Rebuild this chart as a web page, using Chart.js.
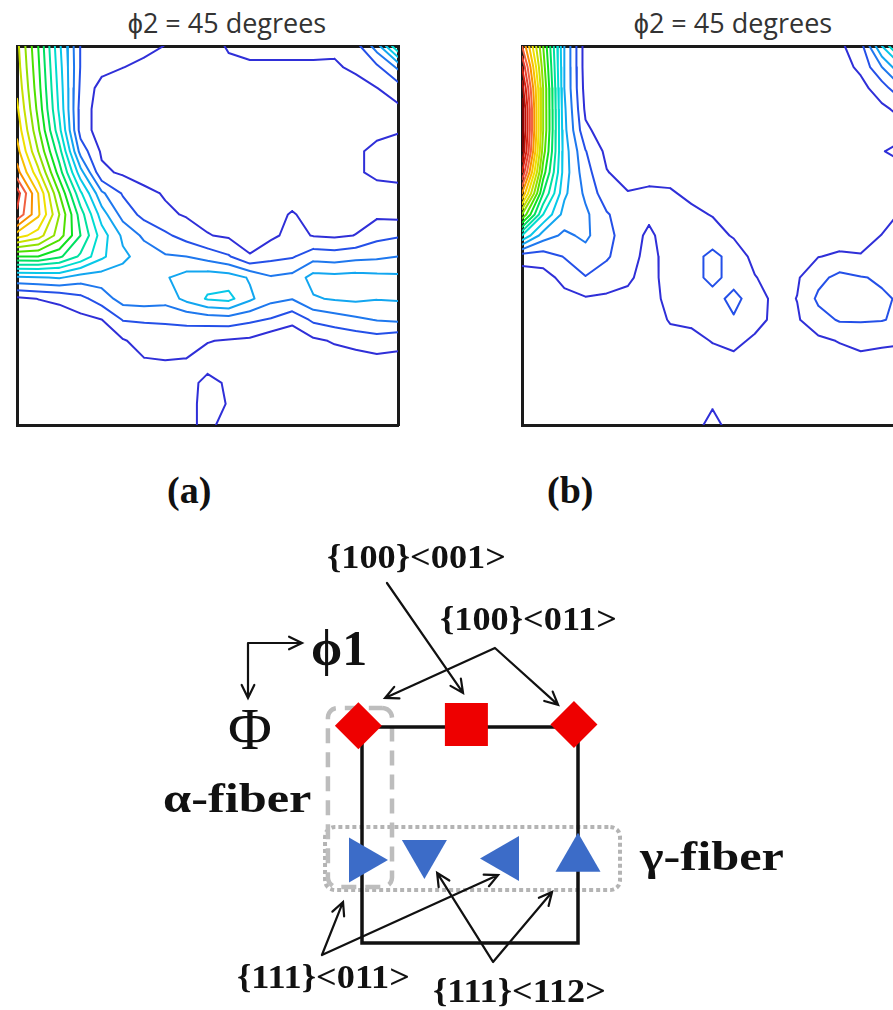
<!DOCTYPE html>
<html>
<head>
<meta charset="utf-8">
<script src="https://cdn.jsdelivr.net/npm/chart.js@4.4.0/dist/chart.umd.min.js"></script>
<style>
  html, body { margin: 0; padding: 0; background: #fff; overflow: hidden; width: 893px; height: 1010px; }
  .box { position: absolute; }
  .lbl { position: absolute; white-space: nowrap; line-height: 1; color: #111; transform-origin: 0 0; }
  .serif { font-family: "Liberation Serif", "Times New Roman", serif; }
  .title { font-family: "Open Sans", sans-serif; font-size: 27px; color: #333; transform: translateX(-50%); }
  .tex { font-size: 33px; font-weight: bold; transform: scaleX(1.1); }
  .fib { font-size: 42px; font-weight: bold; transform: scaleX(1.2); }
</style>
</head>
<body>

<div class="box" style="left:14px;top:43px;width:387px;height:385px"><canvas id="odfA"></canvas></div>
<div class="box" style="left:519px;top:43px;width:387px;height:385px"><canvas id="odfB"></canvas></div>
<div class="box" style="left:0;top:520px;width:893px;height:490px"><canvas id="keyChart"></canvas></div>

<div class="lbl title" style="left:227px;top:9px">ϕ2 = 45 degrees</div>
<div class="lbl title" style="left:733px;top:9px">ϕ2 = 45 degrees</div>

<div class="lbl serif" style="left:167px;top:471px;font-size:38px;font-weight:bold">(a)</div>
<div class="lbl serif" style="left:547px;top:471px;font-size:38px;font-weight:bold">(b)</div>

<div class="lbl serif tex" style="left:327px;top:541px">{100}&lt;001&gt;</div>
<div class="lbl serif tex" style="left:440px;top:603px">{100}&lt;011&gt;</div>
<div class="lbl serif tex" style="left:237px;top:961px">{111}&lt;011&gt;</div>
<div class="lbl serif tex" style="left:433px;top:975px">{111}&lt;112&gt;</div>

<div class="lbl serif" style="left:311px;top:623px;font-size:50px;font-weight:bold">ϕ1</div>
<div class="lbl serif" style="left:228px;top:699px;font-size:60px">Φ</div>
<div class="lbl serif fib" style="left:163px;top:777px">α-fiber</div>
<div class="lbl serif fib" style="left:640px;top:835px">γ-fiber</div>

<script>
// ODF sections at phi2 = 45 degrees, intensity on a 5 degree grid
// rows = Phi 0..90, columns = phi1 0..90
const gridStep = 5;
const contourLevels = [1, 2, 3, 4, 5, 6, 7, 8, 9, 10, 11, 12, 13, 14, 15, 16, 17, 18, 19, 20];
const levelColors = ["#2f2fd8", "#2450e8", "#1e78ee", "#12a6f0", "#08c8e8", "#00dcd0", "#00e0a0", "#00e060",
  "#10e020", "#50e000", "#90e000", "#c8e000", "#f0e000", "#f8c000", "#f89000", "#f06040",
  "#e84030", "#d82010", "#b81008", "#8a0000"];

const odfA = [
  [12.3, 9, 5.2, 1.95, 1.6, 1.45, 1.25, 0.98, 0.8, 0.8, 1.05, 1.1, 1.1, 1.1, 1.1, 1.15, 1.6, 3.5, 7],
  [12.5, 9.2, 5.4, 1.95, 1.35, 1.02, 0.8, 0.7, 0.6, 0.6, 0.9, 0.95, 0.95, 0.95, 0.95, 0.9, 1.15, 1.8, 3.2],
  [12.8, 9.4, 5.6, 1.8, 0.6, 0.5, 0.45, 0.45, 0.4, 0.4, 0.45, 0.5, 0.5, 0.55, 0.6, 0.65, 0.7, 0.98, 1.5],
  [13.2, 9.7, 5.8, 1.6, 0.45, 0.35, 0.3, 0.3, 0.3, 0.3, 0.3, 0.35, 0.35, 0.4, 0.4, 0.45, 0.6, 0.7, 0.8],
  [13.7, 10.2, 6.3, 1.6, 0.45, 0.35, 0.3, 0.3, 0.3, 0.3, 0.3, 0.3, 0.3, 0.35, 0.35, 0.4, 0.6, 0.85, 0.95],
  [14.4, 11, 7.4, 2.6, 0.85, 0.4, 0.35, 0.3, 0.3, 0.3, 0.3, 0.3, 0.3, 0.35, 0.4, 0.5, 0.9, 1.15, 1.25],
  [15.4, 12.3, 8.5, 4.4, 1.2, 0.85, 0.5, 0.4, 0.35, 0.3, 0.3, 0.3, 0.3, 0.35, 0.4, 0.5, 0.9, 1.15, 1.2],
  [17.5, 14, 10, 6.2, 3.2, 1.9, 1.3, 0.9, 0.5, 0.4, 0.35, 0.35, 0.4, 0.5, 0.45, 0.5, 0.6, 0.75, 0.8],
  [16.8, 14.2, 11, 7.5, 4.5, 2.6, 1.7, 1.2, 0.9, 0.7, 0.6, 0.55, 0.6, 1.1, 0.6, 0.6, 0.7, 0.8, 0.7],
  [13.5, 12.5, 10.5, 8, 5.5, 3.8, 2.8, 2.2, 1.6, 1.05, 0.85, 0.7, 0.8, 1.3, 0.95, 0.85, 1.02, 1.7, 1.9],
  [9, 9, 8.2, 6.8, 5.2, 4.2, 3.6, 3.1, 3.0, 2.6, 2.1, 1.05, 1.7, 1.9, 2.6, 2.5, 2.7, 2.8, 3.0],
  [3.8, 3.9, 4.1, 3.5, 3.5, 3.6, 3.7, 3.9, 4.4, 4.6, 4.5, 3.9, 3.1, 3.3, 4.4, 4.3, 4.4, 4.3, 4.2],
  [0.8, 1.02, 1.2, 1.7, 2.5, 3.4, 3.5, 3.4, 4.3, 5.1, 5.3, 4.2, 3.3, 3.05, 3.9, 4.1, 4.2, 4.05, 4.1],
  [0.3, 0.4, 0.5, 0.7, 0.98, 2.05, 2.1, 2.1, 2.2, 2.4, 2.5, 2.2, 1.9, 1.3, 2.2, 2.5, 2.8, 3.05, 3.2],
  [0.2, 0.25, 0.3, 0.35, 0.5, 0.9, 1.4, 1.6, 1.5, 1.05, 0.9, 0.8, 0.3, 0.2, 0.8, 1.1, 1.3, 1.5, 1.2],
  [0.2, 0.2, 0.25, 0.3, 0.35, 0.5, 0.9, 0.95, 0.9, 0.6, 0.5, 0.4, 0.3, 0.2, 0.5, 0.5, 0.6, 0.7, 0.8],
  [0.2, 0.2, 0.2, 0.25, 0.3, 0.3, 0.4, 0.4, 0.6, 1.3, 0.85, 0.4, 0.3, 0.3, 0.3, 0.3, 0.35, 0.4, 0.4],
  [0.2, 0.2, 0.2, 0.2, 0.25, 0.3, 0.3, 0.4, 0.7, 1.3, 0.95, 0.4, 0.3, 0.3, 0.3, 0.3, 0.3, 0.3, 0.3],
  [0.2, 0.2, 0.2, 0.2, 0.2, 0.25, 0.3, 0.4, 0.8, 1.2, 0.7, 0.4, 0.3, 0.3, 0.3, 0.3, 0.3, 0.3, 0.3]
];

const odfB = [
  [16, 10, 4, 0.5, 0.4, 0.35, 0.35, 0.3, 0.3, 0.3, 0.3, 0.3, 0.3, 0.35, 0.5, 0.8, 1.6, 5, 8],
  [18, 10.5, 4, 0.5, 0.4, 0.35, 0.3, 0.3, 0.3, 0.3, 0.3, 0.3, 0.3, 0.3, 0.45, 0.6, 1.2, 3, 5],
  [19.5, 11, 4, 0.6, 0.45, 0.35, 0.3, 0.3, 0.3, 0.3, 0.3, 0.3, 0.3, 0.3, 0.4, 0.5, 0.7, 1.5, 3],
  [20.5, 11, 4.2, 0.8, 0.45, 0.35, 0.3, 0.3, 0.3, 0.3, 0.3, 0.3, 0.3, 0.3, 0.35, 0.4, 0.5, 0.8, 1.3],
  [20.5, 11, 4.3, 1.2, 0.5, 0.4, 0.3, 0.3, 0.3, 0.3, 0.3, 0.3, 0.3, 0.3, 0.35, 0.4, 0.5, 0.6, 0.7],
  [20, 10.5, 4.5, 2.05, 0.75, 0.45, 0.4, 0.35, 0.3, 0.3, 0.3, 0.3, 0.3, 0.3, 0.35, 0.4, 0.5, 0.95, 1.3],
  [18, 9.5, 4.5, 2.4, 1.05, 0.6, 0.8, 0.7, 0.5, 0.4, 0.35, 0.35, 0.35, 0.35, 0.35, 0.4, 0.45, 0.6, 0.7],
  [15, 8, 4.2, 2.8, 1.4, 1.05, 1.1, 1.1, 0.8, 0.6, 0.45, 0.4, 0.35, 0.35, 0.35, 0.4, 0.45, 0.5, 0.6],
  [11, 6, 3.6, 3.2, 2.1, 1.4, 1.2, 1.3, 1.2, 0.95, 0.7, 0.5, 0.45, 0.4, 0.4, 0.45, 0.5, 0.7, 1.1],
  [6, 3.5, 2.8, 3.2, 2.3, 1.5, 0.8, 1.5, 1.4, 1.4, 0.9, 0.6, 0.5, 0.45, 0.5, 0.7, 0.7, 1.02, 1.5],
  [1.4, 1.5, 2.05, 2.6, 2.1, 1.5, 0.6, 1.5, 1.6, 2.3, 1.6, 0.7, 0.45, 0.5, 0.98, 1.1, 1.05, 1.6, 1.7],
  [0.5, 0.6, 1.3, 1.95, 1.6, 1.2, 0.5, 1.6, 1.6, 2.3, 1.6, 1.05, 0.6, 0.9, 1.7, 2.3, 2.05, 1.9, 1.8],
  [0.3, 0.3, 0.7, 0.9, 0.8, 0.7, 0.5, 1.4, 1.5, 1.6, 2.3, 1.5, 0.7, 1.02, 2.2, 2.5, 2.4, 2.1, 1.9],
  [0.25, 0.25, 0.4, 0.5, 0.4, 0.4, 0.4, 1.1, 1.2, 1.4, 1.9, 1.4, 0.7, 0.9, 1.6, 2.1, 2.1, 2.05, 1.8],
  [0.2, 0.2, 0.3, 0.3, 0.3, 0.3, 0.35, 0.6, 0.7, 1.05, 1.3, 0.8, 0.5, 0.5, 0.8, 1.05, 1.3, 1.2, 1.1],
  [0.2, 0.2, 0.2, 0.25, 0.25, 0.3, 0.3, 0.4, 0.5, 0.6, 0.7, 0.5, 0.4, 0.4, 0.5, 0.6, 0.7, 0.6, 0.6],
  [0.2, 0.2, 0.2, 0.2, 0.25, 0.3, 0.3, 0.35, 0.4, 0.4, 0.4, 0.4, 0.35, 0.3, 0.3, 0.3, 0.35, 0.35, 0.35],
  [0.2, 0.2, 0.2, 0.2, 0.2, 0.25, 0.3, 0.3, 0.5, 0.9, 0.5, 0.35, 0.3, 0.3, 0.3, 0.3, 0.3, 0.3, 0.3],
  [0.2, 0.2, 0.2, 0.2, 0.2, 0.2, 0.25, 0.3, 0.6, 1.3, 0.6, 0.35, 0.3, 0.3, 0.3, 0.3, 0.3, 0.3, 0.3]
];

// key sketch, in (phi1, Phi) degrees
const squarePhi1 = [0, 90, 90, 0, 0];
const squarePhi = [0, 0, 90, 90, 0];
const cubePhi1 = [43.5];            // {100}<001>
const cubePhi = [-1];
const rotCubePhi1 = [-1.5, 88.3];   // {100}<011>
const rotCubePhi = [-0.5, -1];
const gammaPhi1 = [0, 26, 60, 90];  // {111} fibre
const gammaPhi = [55.4, 52.5, 54.8, 54.9];
const gammaTurn = [90, 180, 270, 0];
const alphaBox = [-14.2, -7.9, 12.5, 66.7];
const gammaBox = [-15.4, 41.7, 107.5, 67.9];
const arrowTail = [[10.4, -60], [55.4, -32.9], [55.4, -32.9], [-16.7, 95], [-16.7, 95],
  [54.6, 97.9], [54.6, 97.9], [-47.5, -35], [-47.5, -35]];
const arrowTip = [[42.1, -14.2], [9.6, -12.1], [81.7, -9.2], [-7.9, 72.9], [56.7, 61.7],
  [31.3, 60.8], [79.2, 68.75], [-25, -35], [-47.5, -12.1]];

const GAP = { x: NaN, y: NaN };

// marching squares: line pieces of one level, split by gaps
function isoSegments(grid, level) {
  const out = [];
  const lv = level + 1e-6;
  const s = gridStep;
  for (let r = 0; r < grid.length - 1; r++) {
    for (let c = 0; c < grid[r].length - 1; c++) {
      const a = grid[r][c], b = grid[r][c + 1], d = grid[r + 1][c + 1], e = grid[r + 1][c];
      let k = 0;
      if (a >= lv) k |= 8;
      if (b >= lv) k |= 4;
      if (d >= lv) k |= 2;
      if (e >= lv) k |= 1;
      if (k === 0 || k === 15) continue;
      const x0 = c * s, y0 = r * s;
      const T = { x: x0 + (lv - a) / (b - a) * s, y: y0 };
      const R = { x: x0 + s, y: y0 + (lv - b) / (d - b) * s };
      const B = { x: x0 + (lv - e) / (d - e) * s, y: y0 + s };
      const L = { x: x0, y: y0 + (lv - a) / (e - a) * s };
      const mid = (a + b + d + e) / 4 >= lv;
      let segs;
      switch (k) {
        case 1: case 14: segs = [[L, B]]; break;
        case 2: case 13: segs = [[B, R]]; break;
        case 3: case 12: segs = [[L, R]]; break;
        case 4: case 11: segs = [[T, R]]; break;
        case 6: case 9: segs = [[T, B]]; break;
        case 7: case 8: segs = [[T, L]]; break;
        case 5: segs = mid ? [[T, L], [B, R]] : [[T, R], [L, B]]; break;
        case 10: segs = mid ? [[T, R], [L, B]] : [[T, L], [B, R]]; break;
      }
      segs.forEach(([p, q]) => out.push(p, q, GAP));
    }
  }
  return out;
}

function frameAxis(extra) {
  return Object.assign({
    type: "linear", min: 0, max: 90, display: true,
    grid: { display: false, drawTicks: false },
    ticks: { display: false },
    border: { display: true, color: "#1a1a1a", width: 3 }
  }, extra);
}

function odfChart(id, grid) {
  const datasets = [];
  contourLevels.forEach((lv, i) => {
    const pts = isoSegments(grid, lv);
    if (!pts.length) return;
    datasets.push({
      data: pts,
      showLine: true,
      spanGaps: false,
      borderColor: levelColors[i],
      borderWidth: 2,
      borderCapStyle: "round",
      borderJoinStyle: "round",
      pointRadius: 0
    });
  });
  new Chart(document.getElementById(id), {
    type: "scatter",
    data: { datasets },
    options: {
      responsive: true,
      maintainAspectRatio: false,
      animation: false,
      events: [],
      layout: { padding: 3, autoPadding: false },
      plugins: { legend: { display: false }, tooltip: { enabled: false } },
      scales: {
        x: frameAxis({}),
        y: frameAxis({ reverse: true }),
        x2: frameAxis({ position: "top" }),
        y2: frameAxis({ position: "right", reverse: true })
      }
    }
  });
}

function roundedBox([x0, y0, x1, y1], rad) {
  const pts = [];
  const corners = [[x1 - rad, y0 + rad, -90], [x1 - rad, y1 - rad, 0], [x0 + rad, y1 - rad, 90], [x0 + rad, y0 + rad, 180]];
  corners.forEach(([cx, cy, a0]) => {
    for (let k = 0; k <= 6; k++) {
      const t = (a0 + k * 15) * Math.PI / 180;
      pts.push({ x: cx + rad * Math.cos(t), y: cy + rad * Math.sin(t) });
    }
  });
  pts.push(pts[0]);
  return pts;
}

function arrowPoints() {
  const out = [];
  const head = 6, spread = 26 * Math.PI / 180;
  arrowTail.forEach((t, i) => {
    const p = arrowTip[i];
    const ang = Math.atan2(p[1] - t[1], p[0] - t[0]);
    out.push({ x: t[0], y: t[1] }, { x: p[0], y: p[1] }, GAP);
    out.push({ x: p[0] - head * Math.cos(ang - spread), y: p[1] - head * Math.sin(ang - spread) },
      { x: p[0], y: p[1] },
      { x: p[0] - head * Math.cos(ang + spread), y: p[1] - head * Math.sin(ang + spread) }, GAP);
  });
  return out;
}

const zip = (xs, ys) => xs.map((x, i) => ({ x, y: ys[i] }));

function keyChart() {
  const pxPerDeg = 2.4;
  new Chart(document.getElementById("keyChart"), {
    type: "scatter",
    data: {
      datasets: [
        { data: arrowPoints(), showLine: true, spanGaps: false, borderColor: "#111", borderWidth: 2.2,
          borderCapStyle: "round", pointRadius: 0, order: 0 },
        { data: zip(gammaPhi1, gammaPhi), pointStyle: "triangle", pointRadius: 26, pointRotation: gammaTurn,
          backgroundColor: "#3c6cc8", borderWidth: 0, order: 1 },
        { data: zip(rotCubePhi1, rotCubePhi), pointStyle: "rectRot", pointRadius: 23.5,
          backgroundColor: "#ee0000", borderWidth: 0, order: 1 },
        { data: zip(cubePhi1, cubePhi), pointStyle: "rect", pointRadius: 30.4,
          backgroundColor: "#ee0000", borderWidth: 0, order: 1 },
        { data: zip(squarePhi1, squarePhi), showLine: true, borderColor: "#111", borderWidth: 3.5,
          borderJoinStyle: "miter", pointRadius: 0, order: 2 },
        { data: roundedBox(alphaBox, 4), showLine: true, borderColor: "#bdbdbd", borderWidth: 4.5,
          borderDash: [15, 9], pointRadius: 0, order: 3 },
        { data: roundedBox(gammaBox, 4), showLine: true, borderColor: "#b4b4b4", borderWidth: 4,
          borderDash: [4, 3], pointRadius: 0, order: 3 }
      ]
    },
    options: {
      responsive: true,
      maintainAspectRatio: false,
      animation: false,
      events: [],
      layout: { padding: 0, autoPadding: false },
      plugins: { legend: { display: false }, tooltip: { enabled: false } },
      scales: {
        x: { type: "linear", display: false, min: -362 / pxPerDeg, max: (893 - 362) / pxPerDeg },
        y: { type: "linear", display: false, reverse: true, min: -(727 - 520) / pxPerDeg, max: (1010 - 727) / pxPerDeg }
      }
    }
  });
}

odfChart("odfA", odfA);
odfChart("odfB", odfB);
keyChart();
</script>
</body>
</html>
